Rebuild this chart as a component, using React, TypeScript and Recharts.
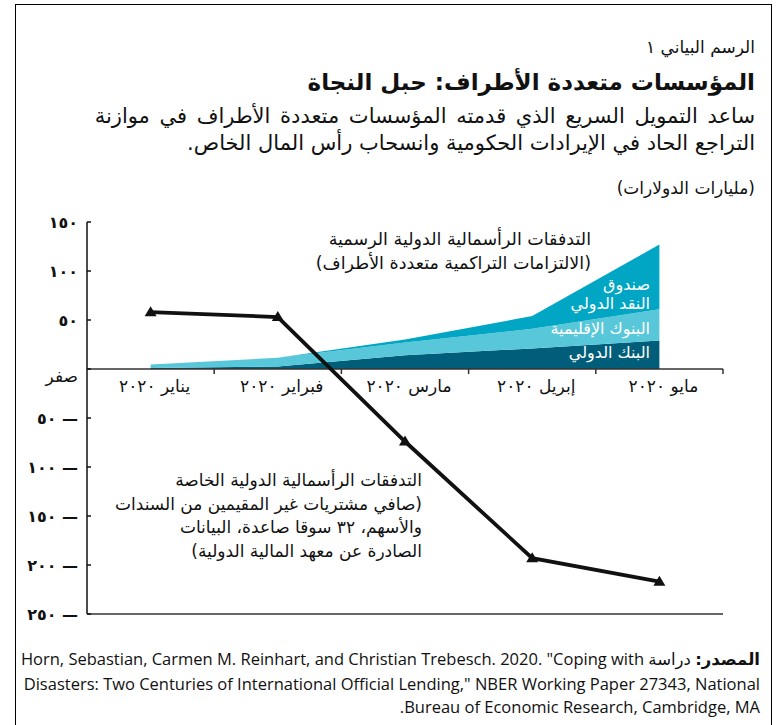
import {
  Area,
  ComposedChart,
  Line,
  ReferenceDot,
  ReferenceLine,
  XAxis,
  YAxis,
} from 'recharts'

const months = ['يناير ٢٠٢٠', 'فبراير ٢٠٢٠', 'مارس ٢٠٢٠', 'إبريل ٢٠٢٠', 'مايو ٢٠٢٠']
const worldBank = [1, 2.5, 14, 21, 29]
const regionalBanks = [3.5, 9, 13, 20, 32]
const imf = [0, 0, 3, 13, 66]
const privateFlows = [58, 53, -74, -193, -217]
const yTicks = [150, 100, 50, 0, -50, -100, -150, -200, -250]
const yTickLabels = ['١٥٠', '١٠٠', '٥٠', 'صفر', '٥٠ —', '١٠٠ —', '١٥٠ —', '٢٠٠ —', '٢٥٠ —']
const boundaries = [1, 2, 3, 4, 5]

const data = months.map((month, i) => ({
  pos: i + 0.5,
  month,
  wb: worldBank[i],
  rb: regionalBanks[i],
  imf: imf[i],
  priv: privateFlows[i],
}))

const ARABIC = '"DejaVu Sans", sans-serif'
const INK = '#111'

function YTick(props: any) {
  const { x, y, payload } = props
  const i = yTicks.indexOf(payload.value)
  const label = yTickLabels[i]
  const isZero = payload.value === 0
  return (
    <g>
      <line x1={x} x2={x + 4} y1={y} y2={y} stroke={INK} strokeWidth={1.5} />
      <text
        x={x - 9}
        y={isZero ? y + 7 : y}
        textAnchor="end"
        dominantBaseline="central"
        fontFamily={ARABIC}
        fontSize={isZero ? 17 : 16}
        fontWeight={isZero ? 400 : 700}
        fill={INK}
      >
        {label}
      </text>
    </g>
  )
}

function Triangle(props: any) {
  const { cx, cy, index } = props
  return (
    <polygon
      key={`tri-${index}`}
      points={`${cx},${cy - 6} ${cx - 6},${cy + 4} ${cx + 6},${cy + 4}`}
      fill={INK}
    />
  )
}

const textBase = {
  position: 'absolute' as const,
  direction: 'rtl' as const,
  textAlign: 'right' as const,
  whiteSpace: 'nowrap' as const,
  fontFamily: ARABIC,
  color: INK,
}

export default function App() {
  return (
    <div style={{ position: 'absolute', left: 0, top: 0, width: 780, height: 725, overflow: 'hidden', background: '#fff' }}>
      <div
        style={{
          position: 'absolute',
          left: 15,
          top: 4,
          width: 755,
          height: 800,
          border: '1.5px solid #000',
        }}
      />

      <div style={{ ...textBase, right: 25, top: 36, fontSize: 17, lineHeight: '22px' }}>الرسم البياني ١</div>
      <div style={{ ...textBase, right: 25, top: 66, fontSize: 23, lineHeight: '32px', fontWeight: 700 }}>
        المؤسسات متعددة الأطراف: حبل النجاة
      </div>
      <div style={{ ...textBase, right: 25, top: 103, fontSize: 21, lineHeight: '27px' }}>
        <div style={{ wordSpacing: 3 }}>ساعد التمويل السريع الذي قدمته المؤسسات متعددة الأطراف في موازنة</div>
        <div>التراجع الحاد في الإيرادات الحكومية وانسحاب رأس المال الخاص.</div>
      </div>
      <div style={{ ...textBase, right: 25, top: 177, fontSize: 17, lineHeight: '22px' }}>(مليارات الدولارات)</div>

      <div style={{ position: 'absolute', left: 0, top: 200 }}>
        <ComposedChart
          width={780}
          height={430}
          data={data}
          margin={{ top: 22, right: 57, bottom: 15, left: 0 }}
        >
          <XAxis
            type="number"
            dataKey="pos"
            domain={[0, 5]}
            tick={false}
            tickLine={false}
            height={1}
            axisLine={{ stroke: '#333', strokeWidth: 1.5 }}
          />
          <YAxis
            type="number"
            domain={[-250, 150]}
            ticks={yTicks}
            interval={0}
            width={87}
            tickSize={0}
            tickMargin={0}
            tickLine={false}
            axisLine={{ stroke: INK, strokeWidth: 1.5 }}
            tick={<YTick />}
          />
          <Area
            type="linear"
            dataKey="wb"
            stackId="mdb"
            stroke="none"
            fill="#005e7a"
            fillOpacity={1}
            isAnimationActive={false}
          />
          <Area
            type="linear"
            dataKey="rb"
            stackId="mdb"
            stroke="none"
            fill="#58c7d9"
            fillOpacity={1}
            isAnimationActive={false}
          />
          <Area
            type="linear"
            dataKey="imf"
            stackId="mdb"
            stroke="none"
            fill="#00a6c3"
            fillOpacity={1}
            isAnimationActive={false}
          />
          <ReferenceLine y={0} stroke="#333" strokeWidth={1.5} />
          {boundaries.map((b) => (
            <ReferenceDot
              key={`b-${b}`}
              x={b}
              y={0}
              ifOverflow="visible"
              shape={(p: any) => <line x1={p.cx} x2={p.cx} y1={p.cy} y2={p.cy + 5} stroke="#333" strokeWidth={1.5} />}
            />
          ))}
          {months.map((m, i) => (
            <ReferenceDot
              key={`m-${i}`}
              x={i + 0.5}
              y={0}
              ifOverflow="visible"
              shape={(p: any) => (
                <text
                  x={p.cx + 4}
                  y={p.cy + 17}
                  textAnchor="middle"
                  dominantBaseline="central"
                  fontFamily={ARABIC}
                  fontSize={17}
                  fill={INK}
                >
                  {m}
                </text>
              )}
            />
          ))}
          <Line
            type="linear"
            dataKey="priv"
            stroke={INK}
            strokeWidth={3.8}
            dot={Triangle}
            activeDot={false}
            isAnimationActive={false}
          />
        </ComposedChart>
      </div>

      <div style={{ ...textBase, right: 189, top: 227, fontSize: 17.5, lineHeight: '24px' }}>
        <div>التدفقات الرأسمالية الدولية الرسمية</div>
        <div>(الالتزامات التراكمية متعددة الأطراف)</div>
      </div>
      <div style={{ ...textBase, right: 130, top: 275, fontSize: 16, lineHeight: '19px', color: '#fff' }}>
        <div>صندوق</div>
        <div>النقد الدولي</div>
      </div>
      <div style={{ ...textBase, right: 130, top: 319, fontSize: 16, lineHeight: '19px', color: '#fff' }}>
        البنوك الإقليمية
      </div>
      <div style={{ ...textBase, right: 130, top: 343, fontSize: 16, lineHeight: '19px', color: '#fff' }}>
        البنك الدولي
      </div>
      <div style={{ ...textBase, right: 358, top: 469, fontSize: 17, lineHeight: '23.5px' }}>
        <div>التدفقات الرأسمالية الدولية الخاصة</div>
        <div>(صافي مشتريات غير المقيمين من السندات</div>
        <div>والأسهم، ٣٢ سوقا صاعدة، البيانات</div>
        <div>الصادرة عن معهد المالية الدولية)</div>
      </div>

      <div
        style={{
          ...textBase,
          right: 20,
          top: 647,
          fontSize: 16.5,
          lineHeight: '23.5px',
          fontFamily: '"Open Sans", "DejaVu Sans", sans-serif',
        }}
      >
        <div>
          <b style={{ fontFamily: ARABIC }}>المصدر:</b> <span style={{ fontFamily: ARABIC }}>دراسة</span> Horn, Sebastian,
          Carmen M. Reinhart, and Christian Trebesch. 2020. "Coping with
        </div>
        <div>Disasters: Two Centuries of International Official Lending," NBER Working Paper 27343, National</div>
        <div>Bureau of Economic Research, Cambridge, MA.</div>
      </div>
    </div>
  )
}
